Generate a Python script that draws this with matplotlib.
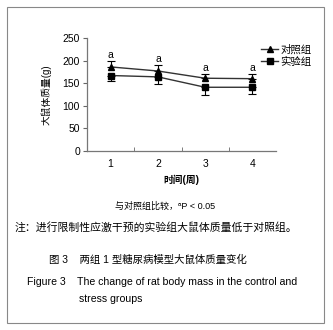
import matplotlib.pyplot as plt
import matplotlib.patches as patches
from matplotlib.lines import Line2D
import numpy as np

plt.rcParams['font.family'] = ['Liberation Sans', 'Noto Sans CJK SC', 'DejaVu Sans']

weeks = [1, 2, 3, 4]
ctrl_mean = [186, 177, 161, 160]
ctrl_err = [13, 13, 10, 10]
exp_mean = [167, 164, 141, 141]
exp_err = [12, 16, 18, 16]
sig_marks = ["a", "a", "a", "a"]

fig = plt.figure(figsize=(3.33, 3.30), dpi=100)
fig.patch.set_facecolor('white')

# outer frame
fig.add_artist(patches.Rectangle((7 / 333, 1 - 323 / 330), 317 / 333, 316 / 330,
                                 transform=fig.transFigure, fill=False,
                                 edgecolor='#888888', linewidth=0.8))

ax = fig.add_axes([87 / 333, 1 - 151 / 330, 189 / 333, 113 / 330])
x = np.array(weeks)
zero = np.zeros(len(x))

ax.errorbar(x, ctrl_mean, yerr=[zero, ctrl_err], color='#333333', lw=1,
            marker='^', ms=5, mfc='black', mec='black', ecolor='black',
            elinewidth=0.8, capsize=3, capthick=0.8)
ax.errorbar(x, exp_mean, yerr=[exp_err, zero], color='#333333', lw=1,
            marker='s', ms=5, mfc='black', mec='black', ecolor='black',
            elinewidth=0.8, capsize=3, capthick=0.8)

for xi, m, e, s in zip(x, ctrl_mean, ctrl_err, sig_marks):
    ax.text(xi, m + e + 2, s, ha='center', va='bottom', fontsize=7.5)

ax.set_xlim(0.5, 4.5)
ax.set_ylim(0, 250)
ax.set_yticks([0, 50, 100, 150, 200, 250])
ax.set_xticks(weeks)
ax.set_xticks([1.5, 2.5, 3.5], minor=True)
ax.tick_params(axis='x', which='major', length=0, labelsize=7.5, pad=6)
ax.tick_params(axis='x', which='minor', length=3, direction='in', color='#666666')
ax.tick_params(axis='y', length=3, labelsize=7.5, color='#666666', pad=2)
for sp in ['top', 'right']:
    ax.spines[sp].set_visible(False)
for sp in ['left', 'bottom']:
    ax.spines[sp].set_color('#777777')
    ax.spines[sp].set_linewidth(0.9)

ax.set_ylabel('大鼠体质量(g)', fontsize=7, labelpad=8)
ax.set_xlabel('时间(周)', fontsize=7, labelpad=4, fontweight='bold')

handles = [Line2D([], [], color='#333333', lw=1, marker='^', ms=5, mfc='black', mec='black'),
           Line2D([], [], color='#333333', lw=1, marker='s', ms=5, mfc='black', mec='black')]
leg = ax.legend(handles, ['对照组', '实验组'], loc='upper left', bbox_to_anchor=(0.9, 0.98),
                frameon=False, fontsize=7.5, handlelength=1.6, handletextpad=0.2,
                labelspacing=0.2, borderaxespad=0)

fig.text(165 / 333, 1 - 206 / 330, '与对照组比较，ᵃP < 0.05',
         ha='center', va='center', fontsize=6.5)
fig.text(15 / 333, 1 - 227 / 330, '注：进行限制性应激干预的实验组大鼠体质量低于对照组。',
         ha='left', va='center', fontsize=7.8)
fig.text(49 / 333, 1 - 260 / 330, '图 3    两组 1 型糖尿病模型大鼠体质量变化',
         ha='left', va='center', fontsize=7.5)
fig.text(27 / 333, 1 - 282 / 330, 'Figure 3    The change of rat body mass in the control and',
         ha='left', va='center', fontsize=7.6)
fig.text(79 / 333, 1 - 299 / 330, 'stress groups',
         ha='left', va='center', fontsize=7.6)

fig.savefig('out.png', dpi=100)
